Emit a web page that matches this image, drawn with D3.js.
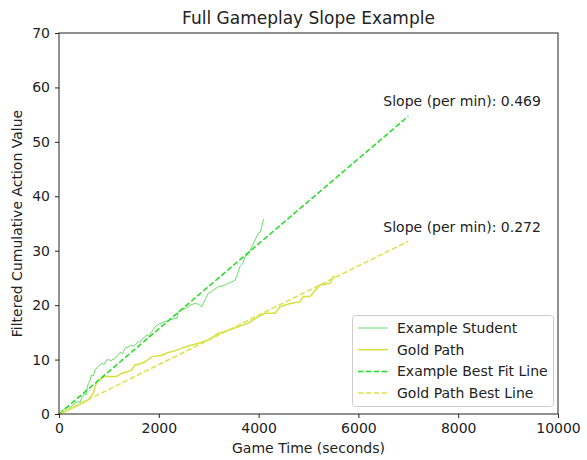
<!DOCTYPE html>
<html><head><meta charset="utf-8">
<script src="https://cdn.jsdelivr.net/npm/d3@7"></script>
<style>body{margin:0;background:#fff}svg{font-family:"DejaVu Sans",sans-serif}</style>
</head><body><svg id="c" width="587" height="460"></svg>
<script>
const studentT = [0,20,120,186,230,300,387,420,450,521,540,560,587,620,650,690,721,790,856,900,950,1000,1040,1122,1180,1220,1280,1323,1380,1450,1500,1589,1630,1680,1720,1758,1800,1850,1924,1970,2020,2124,2180,2230,2325,2360,2391,2460,2525,2580,2620,2725,2790,2860,2900,2992,3050,3100,3192,3250,3300,3393,3450,3527,3570,3627,3680,3727,3800,3862,3930,3994,4030,4062,4100];
const studentV = [0,0.13,1.0,1.34,1.2,1.9,2.26,2.1,2.9,3.8,3.5,4.6,5.6,6.1,7.2,7.0,8.1,8.8,9.3,9.1,9.9,10.0,9.8,10.2,10.8,11.3,11.1,12.1,12.3,12.6,12.5,13.3,13.2,13.9,14.2,14.5,14.3,15.0,16.0,16.3,16.6,17.0,17.1,17.3,17.6,17.5,18.8,19.1,19.4,19.6,20.0,20.3,20.2,19.7,20.5,22.2,22.4,22.8,23.4,23.5,23.6,24.0,24.2,24.6,25.5,27.1,27.6,28.9,29.4,30.7,32.0,33.2,33.4,34.4,35.8];
const goldT = [0,20,321,450,587,687,756,922,1040,1156,1257,1360,1457,1523,1620,1723,1858,2058,2190,2325,2459,2591,2792,2992,3192,3393,3593,3794,3994,4128,4329,4429,4629,4830,4896,5030,5230,5431,5497,5531];
const goldV = [0,0.1,1.3,1.9,2.6,3.8,5.9,6.9,6.9,6.9,7.5,7.7,8.1,9.0,9.2,9.6,10.5,10.8,11.3,11.6,12.1,12.5,13.0,13.6,14.8,15.4,16.0,16.7,17.9,18.5,18.5,19.7,20.3,20.6,21.6,21.6,23.7,24.0,25.2,25.2];
const fitEnd = 7000;
const studentSlope = 0.469, goldSlope = 0.272; // per minute
const slopeLabels = ["Slope (per min): 0.469","Slope (per min): 0.272"];
const xTicks = [0,2000,4000,6000,8000,10000];
const yTicks = [0,10,20,30,40,50,60,70];
const legendLabels = ["Example Student","Gold Path","Example Best Fit Line","Gold Path Best Line"];

const svg = d3.select("#c");
const m = {l:59,r:558,t:33,b:414};
const x = d3.scaleLinear().domain([0,10000]).range([m.l,m.r]);
const y = d3.scaleLinear().domain([0,70]).range([m.b,m.t]);
const fs = 14;

const cStudent="#66dd66", cGold="#d6df3c", cFitS="#22dd22", cFitG="#dde24e";

const line = d3.line().x(d=>x(d[0])).y(d=>y(d[1]));
const plot = svg.append("g");
plot.append("path").datum(studentT.map((t,i)=>[t,studentV[i]]))
  .attr("d",line).attr("fill","none").attr("stroke",cStudent).attr("stroke-width",1);
plot.append("path").datum(goldT.map((t,i)=>[t,goldV[i]]))
  .attr("d",line).attr("fill","none").attr("stroke",cGold).attr("stroke-width",1.5);
plot.append("path").datum([[0,0],[fitEnd,studentSlope/60*fitEnd]])
  .attr("d",line).attr("fill","none").attr("stroke",cFitS).attr("stroke-width",1.5).attr("stroke-dasharray","5.5,2.4");
plot.append("path").datum([[0,0],[fitEnd,goldSlope/60*fitEnd]])
  .attr("d",line).attr("fill","none").attr("stroke",cFitG).attr("stroke-width",1.5).attr("stroke-dasharray","5.5,2.4");

svg.append("text").attr("x",x(6500)).attr("y",y(56.5)).attr("font-size",fs).attr("fill","#222").text(slopeLabels[0]);
svg.append("text").attr("x",x(6500)).attr("y",y(33.5)).attr("font-size",fs).attr("fill","#222").text(slopeLabels[1]);

// frame
svg.append("rect").attr("x",m.l).attr("y",m.t).attr("width",m.r-m.l).attr("height",m.b-m.t)
  .attr("fill","none").attr("stroke","#222").attr("stroke-width",1);

const xa = svg.append("g").attr("transform",`translate(0,${m.b})`)
  .call(d3.axisBottom(x).tickValues(xTicks).tickFormat(d3.format("d")).tickSizeOuter(0).tickSize(4).tickPadding(5));
const ya = svg.append("g").attr("transform",`translate(${m.l},0)`)
  .call(d3.axisLeft(y).tickValues(yTicks).tickSizeOuter(0).tickSize(4).tickPadding(5));
[xa,ya].forEach(a=>{a.select(".domain").remove();a.selectAll("line").attr("stroke","#222");
  a.selectAll("text").attr("font-size",fs).attr("fill","#222").attr("font-family","DejaVu Sans, sans-serif");});

svg.append("text").attr("x",(m.l+m.r)/2).attr("y",24).attr("text-anchor","middle").attr("font-size",17).attr("fill","#222").text("Full Gameplay Slope Example");
svg.append("text").attr("x",(m.l+m.r)/2).attr("y",453).attr("text-anchor","middle").attr("font-size",fs).attr("fill","#222").text("Game Time (seconds)");
svg.append("text").attr("transform",`translate(22,${(m.t+m.b)/2}) rotate(-90)`).attr("text-anchor","middle").attr("font-size",fs).attr("fill","#222").text("Filtered Cumulative Action Value");

// legend
const lg = svg.append("g");
lg.append("rect").attr("x",352.5).attr("y",315.5).attr("width",201).attr("height",91).attr("rx",3)
  .attr("fill","#fff").attr("fill-opacity",0.8).attr("stroke","#ccc");
const styles = [[cStudent,1,null],[cGold,1.5,null],[cFitS,1.5,"5.5,2.4"],[cFitG,1.5,"5.5,2.4"]];
legendLabels.forEach((lab,i)=>{
  const yy = 328 + i*21.7;
  lg.append("line").attr("x1",358).attr("x2",388).attr("y1",yy).attr("y2",yy)
    .attr("stroke",styles[i][0]).attr("stroke-width",styles[i][1]).attr("stroke-dasharray",styles[i][2]);
  lg.append("text").attr("x",397).attr("y",yy+5).attr("font-size",fs).attr("fill","#222").text(lab);
});
</script></body></html>
